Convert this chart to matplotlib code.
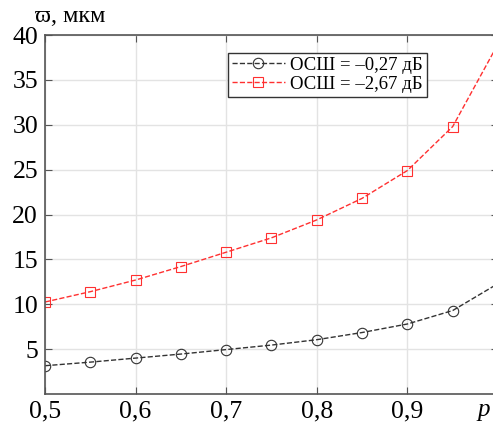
import numpy as np
import matplotlib.pyplot as plt

# datos
p = [0.5, 0.55, 0.6, 0.65, 0.7, 0.75, 0.8, 0.85, 0.9, 0.95]
snr_027 = [3.15, 3.55, 4.0, 4.45, 4.95, 5.45, 6.05, 6.85, 7.8, 9.3]
snr_267 = [10.25, 11.4, 12.7, 14.2, 15.8, 17.4, 19.4, 21.8, 24.9, 29.8]
# continuacion de la linea hasta p = 1
p_end = 1.0
end_027 = 12.3
end_267 = 39.0
xticks = [0.5, 0.6, 0.7, 0.8, 0.9]
xlabels = ['0,5', '0,6', '0,7', '0,8', '0,9']
yticks = [5, 10, 15, 20, 25, 30, 35, 40]
labels = ['ОСШ = –0,27 дБ', 'ОСШ = –2,67 дБ']

plt.rcParams['font.family'] = ['Liberation Serif', 'DejaVu Serif']

fig = plt.figure(figsize=(4.93, 4.22), dpi=100)
ax = fig.add_axes([45/493, 28/422, 453/493, 359/422])

ax.plot(p + [p_end], snr_027 + [end_027], '--', color='#333333', lw=1.0,
        marker='o', markevery=list(range(len(p))), ms=7.5, mfc='none',
        mec='#333333', mew=0.8, label=labels[0])
ax.plot(p + [p_end], snr_267 + [end_267], '--', color='#ff3030', lw=1.0,
        marker='s', markevery=list(range(len(p))), ms=6.5, mfc='none',
        mec='#ff3030', mew=0.8, label=labels[1])

ax.set_xlim(0.5, 1.0)
ax.set_ylim(0, 40)
ax.set_xticks(xticks)
ax.set_xticklabels(xlabels)
ax.set_yticks(yticks)
ax.tick_params(direction='in', labelsize=18.5, length=5, color='#555555',
               top=True, right=True, pad=5)
ax.grid(True, color='#e3e3e3', lw=1.0)
for s in ax.spines.values():
    s.set_color('#555555')
    s.set_linewidth(1.2)

leg = ax.legend(loc='upper left', bbox_to_anchor=(0.405, 0.95), fontsize=13.5,
                fancybox=False, framealpha=1, edgecolor='#333333',
                handlelength=2.8, borderpad=0.2, labelspacing=0.1,
                handletextpad=0.3, borderaxespad=0)
leg.get_frame().set_linewidth(1.0)

fig.text(35/493, 1 - 16/422, 'ϖ, мкм', fontsize=17.5, ha='left', va='center')
fig.text(484/493, 1 - 410/422, 'p', fontsize=18, style='italic',
         ha='center', va='center')

fig.savefig('out.png', dpi=100)
